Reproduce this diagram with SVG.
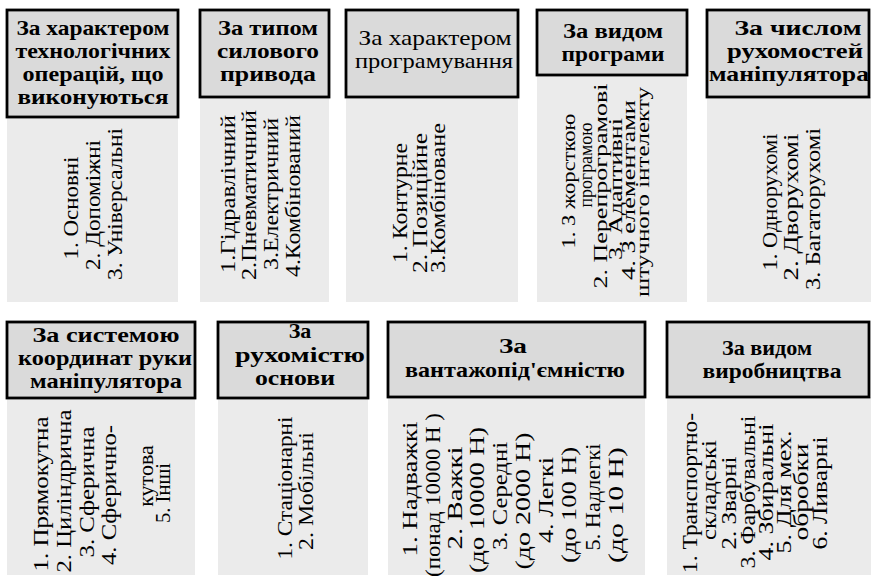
<svg xmlns="http://www.w3.org/2000/svg" width="871" height="585" viewBox="0 0 871 585">
<style>
.hd{fill:#dadada;stroke:#000;stroke-width:2.8}
.bd{fill:#ebebeb;stroke:none}
text{font-family:'Liberation Serif','Times New Roman',serif;fill:#000;text-anchor:middle}
.ht{font-size:22px;font-weight:bold}
.hn{font-size:22px}
.bt{font-size:22px}
.s21{font-size:21px}
.s20{font-size:20px}
.s18{font-size:18.5px}
</style>
<rect width="871" height="585" fill="#fff"/>
<g id="n1">
<rect class="bd" x="7" y="117" width="171" height="185"/>
<rect class="hd" x="7" y="10" width="171" height="107"/>
<text class="ht" x="93" y="35" textLength="153" lengthAdjust="spacingAndGlyphs">За характером</text>
<text class="ht" x="93" y="58" textLength="155" lengthAdjust="spacingAndGlyphs">технологічних</text>
<text class="ht" x="93" y="81" textLength="141" lengthAdjust="spacingAndGlyphs">операцій, що</text>
<text class="ht" x="93" y="104" textLength="151" lengthAdjust="spacingAndGlyphs">виконуються</text>
<g transform="rotate(-90)">
<text class="bt" x="-208" y="78" textLength="103" lengthAdjust="spacingAndGlyphs">1. Основні</text>
<text class="bt" x="-205" y="100" textLength="130" lengthAdjust="spacingAndGlyphs">2. Допоміжні</text>
<text class="bt" x="-204" y="122" textLength="152" lengthAdjust="spacingAndGlyphs">3. Універсальні</text>
</g>
</g>
<g id="n2">
<rect class="bd" x="200" y="97" width="129" height="205"/>
<rect class="hd" x="200" y="10" width="129" height="87"/>
<text class="ht" x="268" y="35" textLength="100" lengthAdjust="spacingAndGlyphs">За типом</text>
<text class="ht" x="268" y="58" textLength="102" lengthAdjust="spacingAndGlyphs">силового</text>
<text class="ht" x="268" y="81" textLength="96" lengthAdjust="spacingAndGlyphs">привода</text>
<g transform="rotate(-90)">
<text class="bt" x="-194" y="235" textLength="158" lengthAdjust="spacingAndGlyphs">1.Гідравлічний</text>
<text class="bt" x="-195" y="256" textLength="170" lengthAdjust="spacingAndGlyphs">2.Пневматичний</text>
<text class="bt" x="-194" y="278" textLength="152" lengthAdjust="spacingAndGlyphs">3.Електричний</text>
<text class="bt" x="-196" y="300" textLength="162" lengthAdjust="spacingAndGlyphs">4.Комбінований</text>
</g>
</g>
<g id="n3">
<rect class="bd" x="346" y="97" width="172" height="205"/>
<rect class="hd" x="346" y="10" width="172" height="87"/>
<text class="hn" x="435" y="45" textLength="153" lengthAdjust="spacingAndGlyphs">За характером</text>
<text class="hn" x="434" y="68" textLength="158" lengthAdjust="spacingAndGlyphs">програмування</text>
<g transform="rotate(-90)">
<text class="bt s21" x="-203" y="407" textLength="120" lengthAdjust="spacingAndGlyphs">1. Контурне</text>
<text class="bt s21" x="-203" y="427" textLength="140" lengthAdjust="spacingAndGlyphs">2. Позиційне</text>
<text class="bt s21" x="-198" y="445" textLength="150" lengthAdjust="spacingAndGlyphs">3.Комбіноване</text>
</g>
</g>
<g id="n4">
<rect class="bd" x="537" y="75" width="150" height="227"/>
<rect class="hd" x="537" y="10" width="150" height="65"/>
<text class="ht" x="613" y="38" textLength="100" lengthAdjust="spacingAndGlyphs">За видом</text>
<text class="ht" x="613" y="61" textLength="103" lengthAdjust="spacingAndGlyphs">програми</text>
<g transform="rotate(-90)">
<text class="bt s18" x="-181" y="575" textLength="135" lengthAdjust="spacingAndGlyphs">1. З жорсткою</text>
<text class="bt s18" x="-165" y="592" textLength="85" lengthAdjust="spacingAndGlyphs">програмою</text>
<text class="bt s18" x="-186" y="607" textLength="205" lengthAdjust="spacingAndGlyphs">2. Перепрограмові</text>
<text class="bt s18" x="-189" y="622" textLength="142" lengthAdjust="spacingAndGlyphs">3. Адаптивні</text>
<text class="bt s18" x="-190" y="635" textLength="180" lengthAdjust="spacingAndGlyphs">4. З елементами</text>
<text class="bt s18" x="-192" y="649" textLength="210" lengthAdjust="spacingAndGlyphs">штучного інтелекту</text>
</g>
</g>
<g id="n5">
<rect class="bd" x="707" y="97" width="164" height="205"/>
<rect class="hd" x="707" y="10" width="162" height="87"/>
<text class="ht" x="798" y="35" textLength="127" lengthAdjust="spacingAndGlyphs">За числом</text>
<text class="ht" x="795" y="58" textLength="136" lengthAdjust="spacingAndGlyphs">рухомостей</text>
<text class="ht" x="789" y="81" textLength="160" lengthAdjust="spacingAndGlyphs">маніпулятора</text>
<g transform="rotate(-90)">
<text class="bt" x="-202" y="777" textLength="137" lengthAdjust="spacingAndGlyphs">1. Однорухомі</text>
<text class="bt" x="-207" y="798" textLength="147" lengthAdjust="spacingAndGlyphs">2. Дворухомі</text>
<text class="bt" x="-209" y="820" textLength="162" lengthAdjust="spacingAndGlyphs">3. Багаторухомі</text>
</g>
</g>
<g id="n6">
<rect class="bd" x="7" y="398" width="188" height="177"/>
<rect class="hd" x="7" y="322" width="188" height="76"/>
<text class="ht" x="106" y="342" textLength="147" lengthAdjust="spacingAndGlyphs">За системою</text>
<text class="ht" x="105" y="365" textLength="174" lengthAdjust="spacingAndGlyphs">координат руки</text>
<text class="ht" x="106" y="388" textLength="152" lengthAdjust="spacingAndGlyphs">маніпулятора</text>
<g transform="rotate(-90)">
<text class="bt" x="-494" y="48" textLength="155" lengthAdjust="spacingAndGlyphs">1. Прямокутна</text>
<text class="bt" x="-491" y="71" textLength="163" lengthAdjust="spacingAndGlyphs">2. Циліндрична</text>
<text class="bt" x="-492" y="94" textLength="131" lengthAdjust="spacingAndGlyphs">3. Сферична</text>
<text class="bt" x="-495" y="116" textLength="140" lengthAdjust="spacingAndGlyphs">4. Сферично-</text>
<text class="bt" x="-476" y="153">кутова</text>
<text class="bt" x="-493" y="170" textLength="60" lengthAdjust="spacingAndGlyphs">5. Інші</text>
</g>
</g>
<g id="n7">
<rect class="bd" x="218" y="398" width="150" height="177"/>
<rect class="hd" x="218" y="322" width="150" height="76"/>
<text class="ht" x="300" y="338">За</text>
<text class="ht" x="300" y="362" textLength="130" lengthAdjust="spacingAndGlyphs">рухомістю</text>
<text class="ht" x="295" y="385" textLength="80" lengthAdjust="spacingAndGlyphs">основи</text>
<g transform="rotate(-90)">
<text class="bt" x="-488" y="292" textLength="143" lengthAdjust="spacingAndGlyphs">1. Стаціонарні</text>
<text class="bt" x="-491" y="313" textLength="118" lengthAdjust="spacingAndGlyphs">2. Мобільні</text>
</g>
</g>
<g id="n8">
<rect class="bd" x="388" y="397" width="257" height="178"/>
<rect class="hd" x="388" y="322" width="257" height="75"/>
<text class="ht" x="513" y="353" textLength="28" lengthAdjust="spacingAndGlyphs">За</text>
<text class="ht" x="515" y="377" textLength="220" lengthAdjust="spacingAndGlyphs">вантажопід'ємністю</text>
<g transform="rotate(-90)">
<text class="bt" x="-489" y="417" textLength="135" lengthAdjust="spacingAndGlyphs">1. Надважкі</text>
<text class="bt" x="-495" y="440" textLength="164" lengthAdjust="spacingAndGlyphs">(понад 10000 Н )</text>
<text class="bt" x="-498" y="462" textLength="103" lengthAdjust="spacingAndGlyphs">2. Важкі</text>
<text class="bt" x="-500" y="484" textLength="146" lengthAdjust="spacingAndGlyphs">(до 10000 Н)</text>
<text class="bt" x="-496" y="507" textLength="108" lengthAdjust="spacingAndGlyphs">3. Середні</text>
<text class="bt" x="-501" y="530" textLength="137" lengthAdjust="spacingAndGlyphs">(до 2000 Н)</text>
<text class="bt" x="-500" y="553" textLength="86" lengthAdjust="spacingAndGlyphs">4. Легкі</text>
<text class="bt" x="-505" y="576" textLength="116" lengthAdjust="spacingAndGlyphs">(до 100 Н)</text>
<text class="bt" x="-497" y="600" textLength="107" lengthAdjust="spacingAndGlyphs">5. Надлегкі</text>
<text class="bt" x="-505" y="623" textLength="116" lengthAdjust="spacingAndGlyphs">(до 10 Н)</text>
</g>
</g>
<g id="n9">
<rect class="bd" x="667" y="397" width="204" height="178"/>
<rect class="hd" x="667" y="322" width="202" height="75"/>
<text class="ht" x="767" y="355" textLength="90" lengthAdjust="spacingAndGlyphs">За видом</text>
<text class="ht" x="772" y="378" textLength="139" lengthAdjust="spacingAndGlyphs">виробництва</text>
<g transform="rotate(-90)">
<text class="bt s20" x="-493" y="697" textLength="160" lengthAdjust="spacingAndGlyphs">1. Транспортно-</text>
<text class="bt s20" x="-490" y="716" textLength="100" lengthAdjust="spacingAndGlyphs">складські</text>
<text class="bt s20" x="-503" y="736" textLength="93" lengthAdjust="spacingAndGlyphs">2. Зварні</text>
<text class="bt s20" x="-492" y="755" textLength="153" lengthAdjust="spacingAndGlyphs">3. Фарбувальні</text>
<text class="bt s20" x="-492" y="773" textLength="137" lengthAdjust="spacingAndGlyphs">4. Збиральні</text>
<text class="bt s20" x="-492" y="791" textLength="123" lengthAdjust="spacingAndGlyphs">5. Для мех.</text>
<text class="bt s20" x="-492" y="808" textLength="97" lengthAdjust="spacingAndGlyphs">обробки</text>
<text class="bt s20" x="-493" y="827" textLength="113" lengthAdjust="spacingAndGlyphs">6. Ливарні</text>
</g>
</g>
</svg>
